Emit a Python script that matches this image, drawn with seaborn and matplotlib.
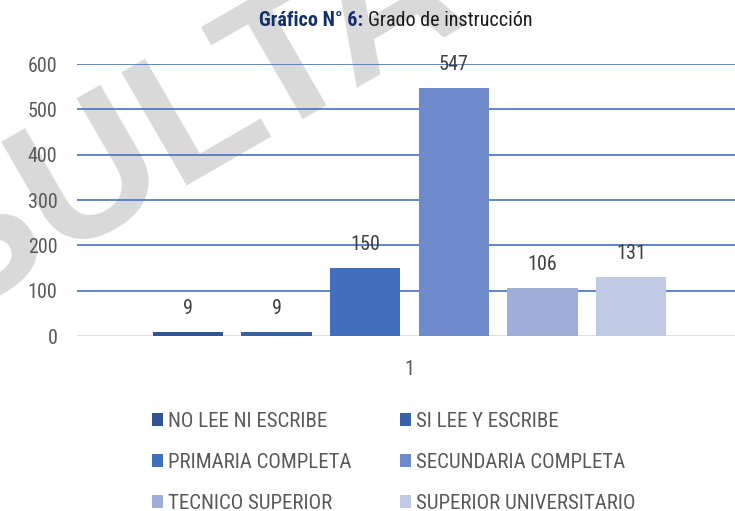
import pandas as pd
import numpy as np
import matplotlib.pyplot as plt
import seaborn as sns

niveles = ['NO LEE NI ESCRIBE', 'SI LEE Y ESCRIBE', 'PRIMARIA COMPLETA',
           'SECUNDARIA COMPLETA', 'TECNICO SUPERIOR', 'SUPERIOR UNIVERSITARIO']
valores = [9, 9, 150, 547, 106, 131]
grupo = ['1'] * len(niveles)
colores = ['#2F5597', '#3A60A8', '#416FBE', '#6E8ACA', '#9EAED8', '#BFC9E4']
y_ticks = [0, 100, 200, 300, 400, 500, 600]

df = pd.DataFrame({'grupo': grupo, 'nivel': niveles, 'valor': valores})

sns.set_style('white')
plt.rcParams['font.family'] = ['Roboto Condensed', 'DejaVu Sans']

fig = plt.figure(figsize=(7.35, 5.11), dpi=100)

# marca de agua
fig.text(26 / 735, 1 - 274 / 511, 'CONSULTA', fontsize=137, fontweight='bold', color='#D9D9D9',
         rotation=30, rotation_mode='anchor', ha='center', va='baseline',
         family=['Liberation Sans', 'DejaVu Sans'], zorder=-1)

ax = fig.add_axes([77 / 735, 1 - 336 / 511, (742 - 77) / 735, (336 - 64) / 511])
ax.patch.set_alpha(0)

sns.barplot(data=df, x='grupo', y='valor', hue='nivel', hue_order=niveles,
            palette=colores, gap=0.21, width=0.8, saturation=1, linewidth=0,
            ax=ax, zorder=3)

for c in ax.containers:
    ax.bar_label(c, padding=10, fontsize=14.5, color='#404040')

ax.set_ylim(0, 600)
ax.set_xlim(-0.5, 0.5)
ax.set_yticks(y_ticks)
for t in y_ticks[1:]:
    ax.axhline(t, color='#4472C4', lw=1.2, zorder=1)
ax.axhline(0, color='#D9D9D9', lw=1.2, zorder=1)
for s in ax.spines.values():
    s.set_visible(False)
ax.tick_params(axis='y', length=0, pad=14, labelsize=14.5, labelcolor='#595959')
ax.tick_params(axis='x', length=0, pad=17, labelsize=14.5, labelcolor='#595959')
ax.set_xlabel('')
ax.set_ylabel('')

handles, labels = ax.get_legend_handles_labels()
ax.get_legend().remove()
orden = [0, 2, 4, 1, 3, 5]
fig.legend([handles[i] for i in orden], [labels[i] for i in orden], ncol=2,
           loc='upper left', bbox_to_anchor=(152 / 735, 1 - 412 / 511),
           frameon=False, fontsize=15, labelcolor='#595959', handlelength=0.53,
           handleheight=0.53, handletextpad=0.26, columnspacing=2.3, labelspacing=1.05,
           borderpad=0, borderaxespad=0)

fig.text(363 / 735, 1 - 20 / 511, 'Gráfico N° 6:', fontsize=14.5, fontweight='bold',
         color='#14306A', ha='right', va='center')
fig.text(368 / 735, 1 - 20 / 511, 'Grado de instrucción', fontsize=14.5,
         color='#1A1A1A', ha='left', va='center')

fig.savefig('out.png', dpi=100)
